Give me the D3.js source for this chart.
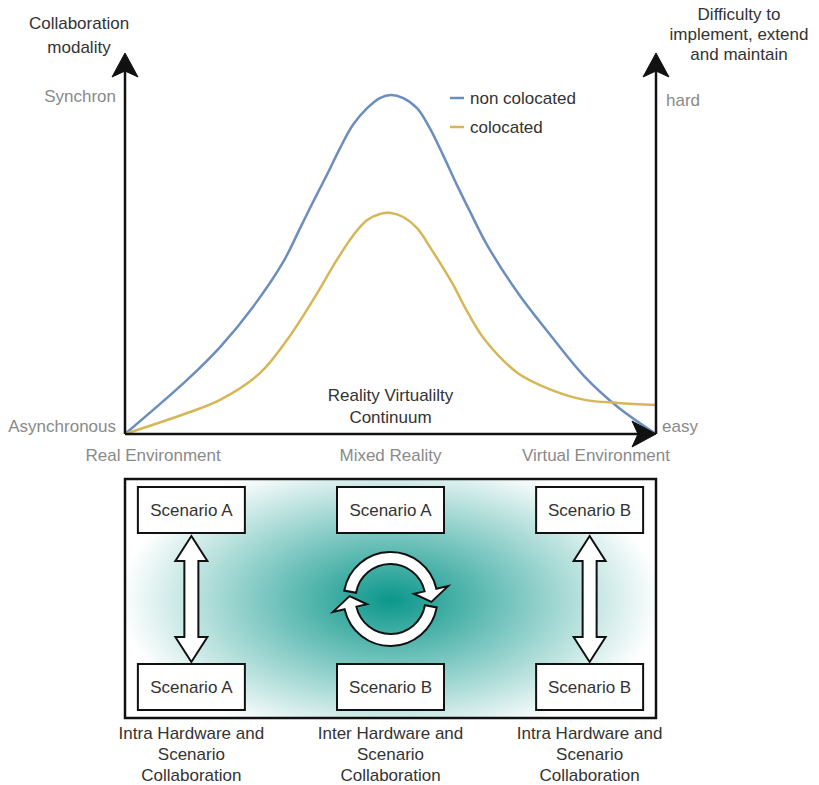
<!DOCTYPE html>
<html>
<head>
<meta charset="utf-8">
<script src="https://cdn.jsdelivr.net/npm/d3@7"></script>
<style>
  body { margin: 0; background: #fff; }
  text { font-family: "Liberation Sans", Arial, sans-serif; font-size: 17px; }
</style>
</head>
<body>
<script>
// continuum position (0 = real, 100 = virtual) and level (0 = asynchronous/easy, 100 = synchron/hard)
var nonColocX = [0, 11.7, 17.9, 24.1, 29.8, 33, 35.4, 38, 40.5, 42.9, 45.6, 48, 50.1, 52.4, 55, 57.4, 59.9, 62.5, 65, 68.2, 74, 80.4, 86.6, 92.8, 100];
var nonColocY = [0, 16, 25.7, 37.6, 50.9, 61, 68.6, 76.6, 84.6, 91.4, 96.4, 99.4, 100.3, 99.4, 96.4, 90.5, 82.5, 73.7, 65.7, 55.9, 41.7, 28.7, 16.9, 8, 0];
var colocX = [0, 11.7, 17.9, 25.4, 30.5, 35.4, 39.9, 42.9, 45.6, 48, 50.1, 52.4, 55, 57.8, 61.6, 64.6, 67.8, 74, 80.4, 86.6, 92.8, 100];
var colocY = [0, 6.2, 10.1, 18, 27.8, 39.6, 51.5, 58.6, 63.3, 65.1, 65.4, 64.2, 60.9, 54.4, 44.7, 35.8, 27.8, 18, 13, 10.1, 9.2, 8.6];

var seriesNames = ["non colocated", "colocated"];
var seriesColors = ["#6c8ebf", "#d6b656"];

var envLabels = ["Real Environment", "Mixed Reality", "Virtual Environment"];
var envPos = [5.3, 50, 88.7];
var levelLabelsLeft = ["Asynchronous", "Synchron"];
var levelLabelsRight = ["easy", "hard"];
var levelPos = [0, 100];

var scenarioTop = ["Scenario A", "Scenario A", "Scenario B"];
var scenarioBottom = ["Scenario A", "Scenario B", "Scenario B"];
var scenarioPos = [12.5, 50, 87.5];
var collabLabels = [
  ["Intra Hardware and", "Scenario", "Collaboration"],
  ["Inter Hardware and", "Scenario", "Collaboration"],
  ["Intra Hardware and", "Scenario", "Collaboration"]
];

var W = 819, H = 785;
var svg = d3.select("body").append("svg").attr("width", W).attr("height", H);

var x = d3.scaleLinear().domain([0, 100]).range([125, 656]);
var y = d3.scaleLinear().domain([0, 100]).range([434, 96]);

var defs = svg.append("defs");
var grad = defs.append("radialGradient").attr("id", "teal");
grad.append("stop").attr("offset", "0%").attr("stop-color", "#0b978b");
grad.append("stop").attr("offset", "100%").attr("stop-color", "#ffffff");
defs.append("clipPath").attr("id", "boxclip").append("rect")
  .attr("x", 125).attr("y", 479).attr("width", 531).attr("height", 239);

// curves
var line = d3.line().x(function(d){ return x(d[0]); }).y(function(d){ return y(d[1]); })
  .curve(d3.curveCatmullRom.alpha(0.5));
var series = [d3.zip(nonColocX, nonColocY), d3.zip(colocX, colocY)];
svg.selectAll("path.curve").data(series).enter().append("path")
  .attr("class", "curve")
  .attr("d", line)
  .attr("fill", "none")
  .attr("stroke", function(d, i){ return seriesColors[i]; })
  .attr("stroke-width", 2.5);

// axes with arrows
function arrowHead(tx, ty, dir) {
  // dir: "up" or "right"; classic notched head
  var L = 24, hw = 13, notch = 6;
  var pts = dir === "up"
    ? [[tx, ty], [tx + hw, ty + L], [tx, ty + L - notch], [tx - hw, ty + L]]
    : [[tx, ty], [tx - L, ty + hw], [tx - L + notch, ty], [tx - L, ty - hw]];
  svg.append("path").attr("d", "M" + pts.join("L") + "Z").attr("fill", "#111").attr("stroke", "#111").attr("stroke-width", 1);
}
var axisG = svg.append("g").attr("stroke", "#111").attr("stroke-width", 2.5);
axisG.append("line").attr("x1", x(0)).attr("y1", y(0)).attr("x2", x(0)).attr("y2", 70);
axisG.append("line").attr("x1", x(100)).attr("y1", y(0)).attr("x2", x(100)).attr("y2", 70);
axisG.append("line").attr("x1", x(0)).attr("y1", y(0)).attr("x2", x(100) - 16).attr("y2", y(0));
arrowHead(x(0), 53, "up");
arrowHead(x(100), 53, "up");
arrowHead(x(100), y(0), "right");

// axis labels
svg.selectAll("text.lvlL").data(levelPos).enter().append("text")
  .attr("x", 116).attr("y", function(d){ return y(d) + (d === 0 ? -2 : 6); })
  .attr("text-anchor", "end").attr("fill", "#8a8a8a")
  .text(function(d, i){ return levelLabelsLeft[i]; });
svg.selectAll("text.lvlR").data(levelPos).enter().append("text")
  .attr("x", function(d){ return d === 0 ? 662 : 666; })
  .attr("y", function(d){ return y(d) + (d === 0 ? -2 : 10); })
  .attr("fill", "#8a8a8a")
  .text(function(d, i){ return levelLabelsRight[i]; });
svg.selectAll("text.env").data(envPos).enter().append("text")
  .attr("x", function(d){ return x(d); }).attr("y", 461)
  .attr("text-anchor", "middle").attr("fill", "#8a8a8a")
  .text(function(d, i){ return envLabels[i]; });

function multiText(lines, cx, y0, dy, color) {
  var t = svg.append("text").attr("text-anchor", "middle").attr("fill", color);
  lines.forEach(function(s, i){
    t.append("tspan").attr("x", cx).attr("y", y0 + i * dy).text(s);
  });
}
multiText(["Collaboration", "modality"], 79, 29, 24, "#333");
multiText(["Difficulty to", "implement, extend", "and maintain"], 739, 20, 20, "#333");
multiText(["Reality Virtualilty", "Continuum"], x(50), 401, 22, "#333");

// legend
var leg = svg.selectAll("g.leg").data(seriesNames).enter().append("g")
  .attr("transform", function(d, i){ return "translate(450," + (98 + i * 29) + ")"; });
leg.append("line").attr("x1", 0).attr("x2", 14).attr("stroke", function(d, i){ return seriesColors[i]; }).attr("stroke-width", 2.5);
leg.append("text").attr("x", 20).attr("y", 6).attr("fill", "#333").text(function(d){ return d; });

// lower panel
var g2 = svg.append("g");
g2.append("ellipse").attr("clip-path", "url(#boxclip)")
  .attr("cx", x(50)).attr("cy", 600).attr("rx", 270).attr("ry", 145).attr("fill", "url(#teal)");
g2.append("rect").attr("x", 125).attr("y", 479).attr("width", 531).attr("height", 239)
  .attr("fill", "none").attr("stroke", "#111").attr("stroke-width", 2.5);

var bw = 107, bh = 46;
function scenarioBoxes(labels, top) {
  var b = g2.selectAll(null).data(labels).enter().append("g")
    .attr("transform", function(d, i){ return "translate(" + (x(scenarioPos[i]) - bw / 2) + "," + top + ")"; });
  b.append("rect").attr("width", bw).attr("height", bh).attr("fill", "#fff").attr("stroke", "#111").attr("stroke-width", 2);
  b.append("text").attr("x", bw / 2).attr("y", 29).attr("text-anchor", "middle").attr("fill", "#333").text(function(d){ return d; });
}
scenarioBoxes(scenarioTop, 487);
scenarioBoxes(scenarioBottom, 664);

// double arrows (left and right)
function doubleArrow(cx, y1, y2) {
  var sw = 7, hw = 16, hl = 25;
  var p = d3.path();
  p.moveTo(cx, y1);
  p.lineTo(cx + hw, y1 + hl); p.lineTo(cx + sw, y1 + hl);
  p.lineTo(cx + sw, y2 - hl); p.lineTo(cx + hw, y2 - hl);
  p.lineTo(cx, y2);
  p.lineTo(cx - hw, y2 - hl); p.lineTo(cx - sw, y2 - hl);
  p.lineTo(cx - sw, y1 + hl); p.lineTo(cx - hw, y1 + hl);
  p.closePath();
  g2.append("path").attr("d", p.toString()).attr("fill", "#fff").attr("stroke", "#111").attr("stroke-width", 2);
}
doubleArrow(x(scenarioPos[0]), 536, 662);
doubleArrow(x(scenarioPos[2]), 536, 662);

// circular arrows (center)
function arcArrow(cx, cy, a0, a1) {
  var rIn = 35, rOut = 47, hIn = 24, hOut = 59, rMid = 41, tipA = a1 + 0.29;
  function pt(r, a){ return [cx + r * Math.cos(a), cy + r * Math.sin(a)]; }
  var p = d3.path();
  var s = pt(rOut, a0); p.moveTo(s[0], s[1]);
  p.arc(cx, cy, rOut, a0, a1, false);
  var q = pt(hOut, a1); p.lineTo(q[0], q[1]);
  q = pt(rMid, tipA); p.lineTo(q[0], q[1]);
  q = pt(hIn, a1); p.lineTo(q[0], q[1]);
  q = pt(rIn, a1); p.lineTo(q[0], q[1]);
  p.arc(cx, cy, rIn, a1, a0, true);
  p.closePath();
  g2.append("path").attr("d", p.toString()).attr("fill", "#fff").attr("stroke", "#111").attr("stroke-width", 2);
}
arcArrow(x(50), 599, Math.PI + 0.18, 2 * Math.PI - 0.22);
arcArrow(x(50), 599, 0.18, Math.PI - 0.22);

// collaboration labels
collabLabels.forEach(function(lines, i){
  multiText(lines, x(scenarioPos[i]), 739, 21, "#333");
});
</script>
</body>
</html>
